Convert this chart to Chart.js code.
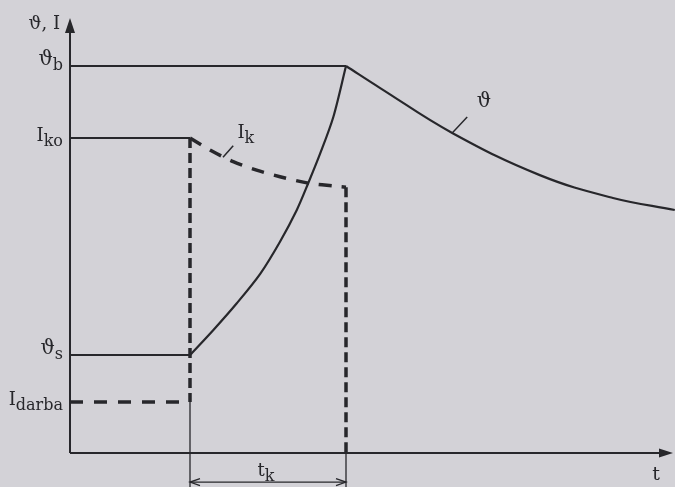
<!DOCTYPE html>
<html>
<head>
<meta charset="utf-8">
<script src="https://cdn.jsdelivr.net/npm/chart.js@4/dist/chart.umd.min.js"></script>
<style>
  html, body { margin: 0; padding: 0; background: #d3d2d7; }
  #wrap { width: 675px; height: 487px; }
  canvas { display: block; }
</style>
</head>
<body>
<div id="wrap"><canvas id="c" width="675" height="487"></canvas></div>
<script>
// Levels on the vertical axis (temperature ϑ and current I, relative units)
const levelNames = [['ϑ', 'b'], ['I', 'ko'], ['ϑ', 's'], ['I', 'darba']];
const levelValues = [100, 81.4, 25.3, 13.2];
const thetaB = levelValues[0], Iko = levelValues[1], thetaS = levelValues[2], Idarba = levelValues[3];

// Short-circuit start and end (time, relative units)
const tStart = 20;
const tEnd = 46;
const tAxisEnd = 100.5;
const yAxisEnd = 112.4;

// Short-circuit current I_k during the fault
const ikTime = [20, 23.8, 27.2, 31.1, 35, 39.5, 44.5, 46];
const ikValues = [81.4, 77.9, 75.3, 73.1, 71.4, 69.8, 68.9, 68.7];

// Temperature rise during the fault
const riseTime = [20, 23.9, 27.8, 31.7, 35.0, 37.8, 39.7, 41.7, 43.9, 46];
const riseValues = [25.3, 31.8, 38.7, 46.3, 54.6, 62.8, 69.7, 77.4, 86.9, 100];

// Cooling after the fault is cleared
const coolTime = [46, 51.7, 63.7, 78.3, 90.5, 100.8];
const coolValues = [100, 94.3, 82.7, 71.8, 65.9, 62.8];

const INK = '#27272b';
const pts = (xs, ys) => xs.map((x, i) => ({ x, y: ys[i] }));

function line(data, opts) {
  return Object.assign({
    data, showLine: true, borderColor: INK, borderWidth: 1.8,
    pointRadius: 0, fill: false, tension: 0
  }, opts || {});
}

const datasets = [
  // axes
  line([{ x: 0, y: 0 }, { x: 0, y: yAxisEnd - 2 }], { borderWidth: 2 }),
  line([{ x: 0, y: 0 }, { x: tAxisEnd - 1.5, y: 0 }], { borderWidth: 2 }),
  // ϑb level up to the peak
  line([{ x: 0, y: thetaB }, { x: tEnd, y: thetaB }]),
  // I_ko level before the fault
  line([{ x: 0, y: Iko }, { x: tStart, y: Iko }]),
  // ϑs steady temperature before the fault
  line([{ x: 0, y: thetaS }, { x: tStart, y: thetaS }], { borderWidth: 2 }),
  // ϑ rise and cooling
  line(pts(riseTime, riseValues), { borderWidth: 2.2, tension: 0.3 }),
  line(pts(coolTime, coolValues), { borderWidth: 2.2, tension: 0.4 }),
  // working current I_darba
  line([{ x: 0, y: Idarba }, { x: tStart, y: Idarba }], { borderWidth: 3.5, borderDash: [13, 11] }),
  // short-circuit current I_k
  line(pts(ikTime, ikValues), { borderWidth: 3.5, borderDash: [13, 10], tension: 0.3 }),
  // fault boundaries
  line([{ x: tStart, y: Iko }, { x: tStart, y: Idarba }], { borderWidth: 3.5, borderDash: [10, 5] }),
  line([{ x: tEnd, y: ikValues[ikValues.length - 1] }, { x: tEnd, y: 0 }], { borderWidth: 3.5, borderDash: [10, 5] }),
  // extension lines for the t_k dimension
  line([{ x: tStart, y: Idarba }, { x: tStart, y: -9 }], { borderWidth: 1.3 }),
  line([{ x: tEnd, y: 0 }, { x: tEnd, y: -9 }], { borderWidth: 1.3 }),
  // t_k dimension line
  line([{ x: tStart, y: -7.5 }, { x: tEnd, y: -7.5 }], { borderWidth: 1.3 }),
  // leaders for the curve labels
  line([{ x: 25.5, y: 76.4 }, { x: 27.2, y: 79.4 }], { borderWidth: 1.5 }),
  line([{ x: 63.7, y: 82.7 }, { x: 66.2, y: 86.8 }], { borderWidth: 1.5 })
];

const SERIF = '"DejaVu Serif", "Liberation Serif", serif';

function drawSub(ctx, main, sub, x, y, align, mainSize, subSize) {
  ctx.font = mainSize + 'px ' + SERIF;
  const wm = ctx.measureText(main).width;
  ctx.font = subSize + 'px ' + SERIF;
  const ws = sub ? ctx.measureText(sub).width : 0;
  const total = wm + ws;
  let x0 = x;
  if (align === 'right') x0 = x - total;
  else if (align === 'center') x0 = x - total / 2;
  ctx.textAlign = 'left';
  ctx.textBaseline = 'alphabetic';
  ctx.font = mainSize + 'px ' + SERIF;
  ctx.fillText(main, x0, y);
  if (sub) {
    ctx.font = subSize + 'px ' + SERIF;
    ctx.fillText(sub, x0 + wm, y + 5);
  }
}

const marks = {
  id: 'marks',
  beforeDraw(chart) {
    const ctx = chart.ctx;
    ctx.save();
    ctx.fillStyle = '#d3d2d7';
    ctx.fillRect(0, 0, chart.width, chart.height);
    ctx.restore();
  },
  afterDatasetsDraw(chart) {
    const ctx = chart.ctx;
    const xs = chart.scales.x, ys = chart.scales.y;
    const X = v => xs.getPixelForValue(v), Y = v => ys.getPixelForValue(v);
    ctx.save();
    ctx.fillStyle = INK;
    ctx.strokeStyle = INK;

    // axis arrowheads
    const x0 = X(0), y0 = Y(0);
    ctx.beginPath();
    ctx.moveTo(x0, Y(yAxisEnd));
    ctx.lineTo(x0 - 5, Y(yAxisEnd) + 15);
    ctx.lineTo(x0 + 5, Y(yAxisEnd) + 15);
    ctx.closePath();
    ctx.fill();
    ctx.beginPath();
    ctx.moveTo(X(tAxisEnd), y0);
    ctx.lineTo(X(tAxisEnd) - 14, y0 - 4.5);
    ctx.lineTo(X(tAxisEnd) - 14, y0 + 4.5);
    ctx.closePath();
    ctx.fill();

    // t_k dimension arrowheads
    const yd = Y(-7.5);
    ctx.lineWidth = 1.3;
    ctx.beginPath();
    ctx.moveTo(X(tStart) + 10, yd - 3.5);
    ctx.lineTo(X(tStart), yd);
    ctx.lineTo(X(tStart) + 10, yd + 3.5);
    ctx.moveTo(X(tEnd) - 10, yd - 3.5);
    ctx.lineTo(X(tEnd), yd);
    ctx.lineTo(X(tEnd) - 10, yd + 3.5);
    ctx.stroke();

    // level labels left of the vertical axis
    levelNames.forEach((n, i) => {
      const size = n[0] === 'ϑ' ? 20 : 18;
      drawSub(ctx, n[0], n[1], x0 - 7, Y(levelValues[i]) + (n[0] === 'ϑ' ? -1 : 3), 'right', size, 16);
    });

    // axis titles
    drawSub(ctx, 'ϑ, I', '', x0 - 10, 29, 'right', 18, 15);
    drawSub(ctx, 't', '', X(tAxisEnd) - 17, Y(0) + 27, 'center', 19, 15);

    // curve labels
    drawSub(ctx, 'I', 'k', X(27.9), Y(81.5), 'left', 18, 16);
    drawSub(ctx, 'ϑ', '', X(67.8), Y(89.5), 'left', 20, 15);
    drawSub(ctx, 't', 'k', (X(tStart) + X(tEnd)) / 2 - 2, Y(-7.5) - 6, 'center', 18, 16);

    ctx.restore();
  }
};

new Chart(document.getElementById('c'), {
  type: 'scatter',
  data: { datasets },
  options: {
    responsive: false,
    animation: false,
    layout: { padding: 0 },
    plugins: { legend: { display: false }, tooltip: { enabled: false } },
    scales: {
      x: { type: 'linear', display: false, min: -70 / 6, max: -70 / 6 + 675 / 6 },
      y: { type: 'linear', display: false, min: 453 / 3.87 - 487 / 3.87, max: 453 / 3.87 }
    }
  },
  plugins: [marks]
});
</script>
</body>
</html>
